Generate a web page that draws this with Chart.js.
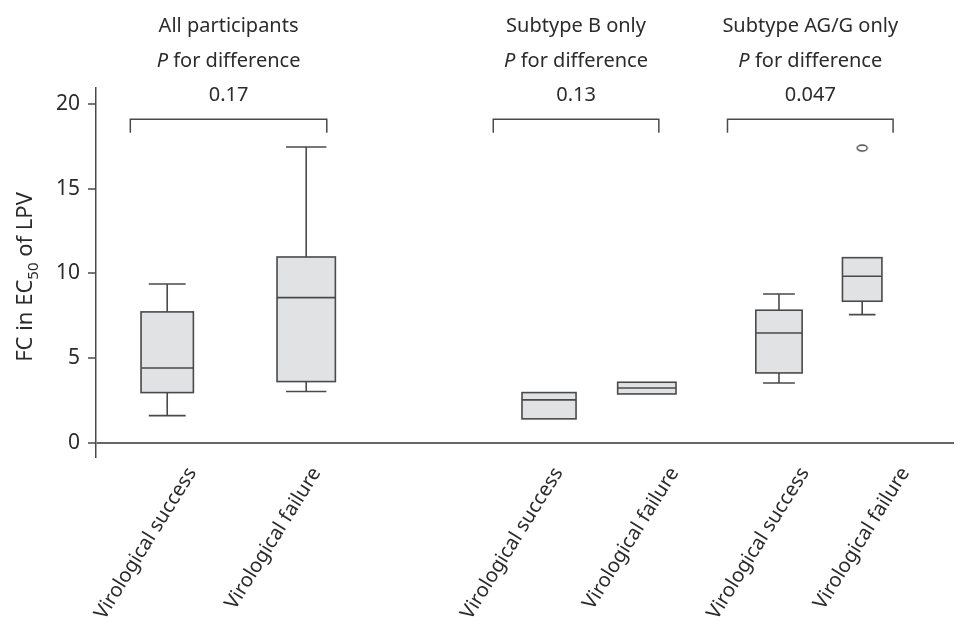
<!DOCTYPE html>
<html><head><meta charset="utf-8">
<script src="https://cdn.jsdelivr.net/npm/chart.js@4.4.1/dist/chart.umd.min.js"></script>
<style>html,body{margin:0;padding:0;background:#fff}#wrap{width:960px;height:626px;position:relative}</style>
</head><body><div id="wrap"><canvas id="c"></canvas></div>
<script>
// ---- data ----
const categories = ['Virological success','Virological failure','Virological success','Virological failure','Virological success','Virological failure'];
const groups = ['All participants','Subtype B only','Subtype AG/G only'];
const pValues = ['0.17','0.13','0.047'];
const whiskerLow  = [1.61, 3.03, 1.42, 2.89, 3.54, 7.57];
const q1          = [2.97, 3.62, 1.42, 2.89, 4.13, 8.36];
const median      = [4.42, 8.57, 2.54, 3.24, 6.49, 9.83];
const q3          = [7.73, 10.97, 2.97, 3.58, 7.83, 10.93];
const whiskerHigh = [9.38, 17.46, 2.97, 3.58, 8.79, 10.93];
const outlierValues = [[], [], [], [], [], [17.40]];
const yTicks = [0, 5, 10, 15, 20];

// ---- layout (axis units on the x scale) ----
const boxX   = [0.83, 2.45, 5.28, 6.42, 7.96, 8.93];
const boxW   = [0.61, 0.68, 0.63, 0.68, 0.54, 0.46];
const capW   = [0.43, 0.47, 0, 0, 0.37, 0.31];
const labelX = [1.12, 2.57, 5.39, 6.74, 8.26, 9.43];
const bracketX = [[0.40, 2.69], [4.63, 6.56], [7.36, 9.29]];
const bracketTopY = 19.1, bracketLegY = 18.3;

const FONT = '"Noto Sans", "Open Sans", sans-serif';
const TEXT = '#2b2b2b';
const LINE = '#4a4a4a';
const FILL = '#e1e2e4';
const FS = 20;

const outlierPoints = [];
outlierValues.forEach((arr, i) => arr.forEach(v => outlierPoints.push({x: boxX[i], y: v})));

// ellipse marker
const mk = document.createElement('canvas');
mk.width = 14; mk.height = 10;
{ const c = mk.getContext('2d'); c.strokeStyle = LINE; c.lineWidth = 1.4;
  c.beginPath(); c.ellipse(7, 5, 5, 3, 0, 0, Math.PI * 2); c.stroke(); }

const boxPlugin = {
  id: 'boxes',
  beforeDatasetsDraw(chart) {
    const ctx = chart.ctx, xs = chart.scales.x, ys = chart.scales.y;
    ctx.save();
    ctx.lineWidth = 1.6; ctx.strokeStyle = LINE;
    for (let i = 0; i < boxX.length; i++) {
      const cx = xs.getPixelForValue(boxX[i]);
      const hw = (xs.getPixelForValue(boxX[i] + boxW[i] / 2) - xs.getPixelForValue(boxX[i] - boxW[i] / 2)) / 2;
      const cw = (xs.getPixelForValue(boxX[i] + capW[i] / 2) - xs.getPixelForValue(boxX[i] - capW[i] / 2)) / 2;
      const yl = ys.getPixelForValue(whiskerLow[i]), y1 = ys.getPixelForValue(q1[i]);
      const ym = ys.getPixelForValue(median[i]), y3 = ys.getPixelForValue(q3[i]);
      const yh = ys.getPixelForValue(whiskerHigh[i]);
      ctx.beginPath();
      if (yh < y3 - 0.5) { ctx.moveTo(cx, y3); ctx.lineTo(cx, yh); ctx.moveTo(cx - cw, yh); ctx.lineTo(cx + cw, yh); }
      if (yl > y1 + 0.5) { ctx.moveTo(cx, y1); ctx.lineTo(cx, yl); ctx.moveTo(cx - cw, yl); ctx.lineTo(cx + cw, yl); }
      ctx.stroke();
      ctx.fillStyle = FILL;
      ctx.fillRect(cx - hw, y3, hw * 2, y1 - y3);
      ctx.strokeRect(cx - hw, y3, hw * 2, y1 - y3);
      ctx.beginPath(); ctx.moveTo(cx - hw, ym); ctx.lineTo(cx + hw, ym); ctx.stroke();
    }
    // brackets
    const bt = ys.getPixelForValue(bracketTopY), bl = ys.getPixelForValue(bracketLegY);
    ctx.lineWidth = 1.5;
    ctx.fillStyle = TEXT; ctx.textBaseline = 'alphabetic';
    bracketX.forEach((b, g) => {
      const x0 = xs.getPixelForValue(b[0]), x1 = xs.getPixelForValue(b[1]);
      ctx.beginPath(); ctx.moveTo(x0, bl); ctx.lineTo(x0, bt); ctx.lineTo(x1, bt); ctx.lineTo(x1, bl); ctx.stroke();
      const mx = (x0 + x1) / 2;
      ctx.textAlign = 'center';
      ctx.font = FS + 'px ' + FONT;
      ctx.fillText(pValues[g], mx, bt - 18);
      ctx.fillText(groups[g], mx, bt - 87);
      // "P for difference" with italic P
      const fi = 'italic ' + FS + 'px ' + FONT, fn = FS + 'px ' + FONT;
      ctx.font = fi; const wp = ctx.measureText('P').width;
      ctx.font = fn; const wr = ctx.measureText(' for difference').width;
      const sx = mx - (wp + wr) / 2;
      ctx.textAlign = 'left';
      ctx.font = fi; ctx.fillText('P', sx, bt - 52);
      ctx.font = fn; ctx.fillText(' for difference', sx + wp, bt - 52);
    });
    // y axis title with subscript
    ctx.save();
    ctx.translate(32, 277);
    ctx.rotate(-Math.PI / 2);
    const parts = [['FC in EC', 22, 0], ['50', 15, 6], [' of LPV', 22, 0]];
    let tw = 0;
    parts.forEach(p => { ctx.font = p[1] + 'px ' + FONT; tw += ctx.measureText(p[0]).width; });
    let px = -tw / 2;
    ctx.textAlign = 'left'; ctx.fillStyle = TEXT;
    parts.forEach(p => { ctx.font = p[1] + 'px ' + FONT; ctx.fillText(p[0], px, p[2]); px += ctx.measureText(p[0]).width; });
    ctx.restore();
    ctx.restore();
  }
};

new Chart(document.getElementById('c'), {
  type: 'scatter',
  data: {
    datasets: [{
      data: outlierPoints,
      pointStyle: mk,
      pointRadius: 5,
      borderColor: LINE,
      backgroundColor: 'rgba(0,0,0,0)'
    }]
  },
  options: {
    responsive: true,
    maintainAspectRatio: false,
    animation: false,
    layout: { padding: { top: 88, left: 0, right: 0, bottom: 0 } },
    plugins: { legend: { display: false }, tooltip: { enabled: false }, title: { display: false } },
    scales: {
      x: {
        type: 'linear', min: 0, max: 10,
        grid: { display: false, drawTicks: false },
        border: { display: false },
        afterBuildTicks: s => { s.ticks = labelX.map(v => ({ value: v })); },
        afterFit: s => { s.height = 169; s.paddingRight = 0; s.paddingLeft = 0; },
        ticks: {
          autoSkip: false, minRotation: 58, maxRotation: 58, padding: 6,
          color: TEXT, font: { family: FONT, size: FS },
          callback: (v, i) => categories[i]
        }
      },
      y: {
        type: 'linear', min: -0.83, max: 20.94,
        afterBuildTicks: s => { s.ticks = yTicks.map(v => ({ value: v })); },
        afterFit: s => { s.width = 96; s.paddingTop = 0; s.paddingBottom = 0; },
        grid: {
          drawOnChartArea: true, drawTicks: true, tickLength: 8,
          color: c => (c.tick && c.tick.value === 0) ? '#666' : 'rgba(0,0,0,0)',
          lineWidth: c => (c.tick && c.tick.value === 0) ? 2 : 0,
          tickColor: LINE, tickWidth: 1.5
        },
        border: { display: true, color: LINE, width: 1.5 },
        ticks: { padding: 8, color: TEXT, font: { family: FONT, size: 21 } }
      }
    }
  },
  plugins: [boxPlugin]
});
</script></body></html>
